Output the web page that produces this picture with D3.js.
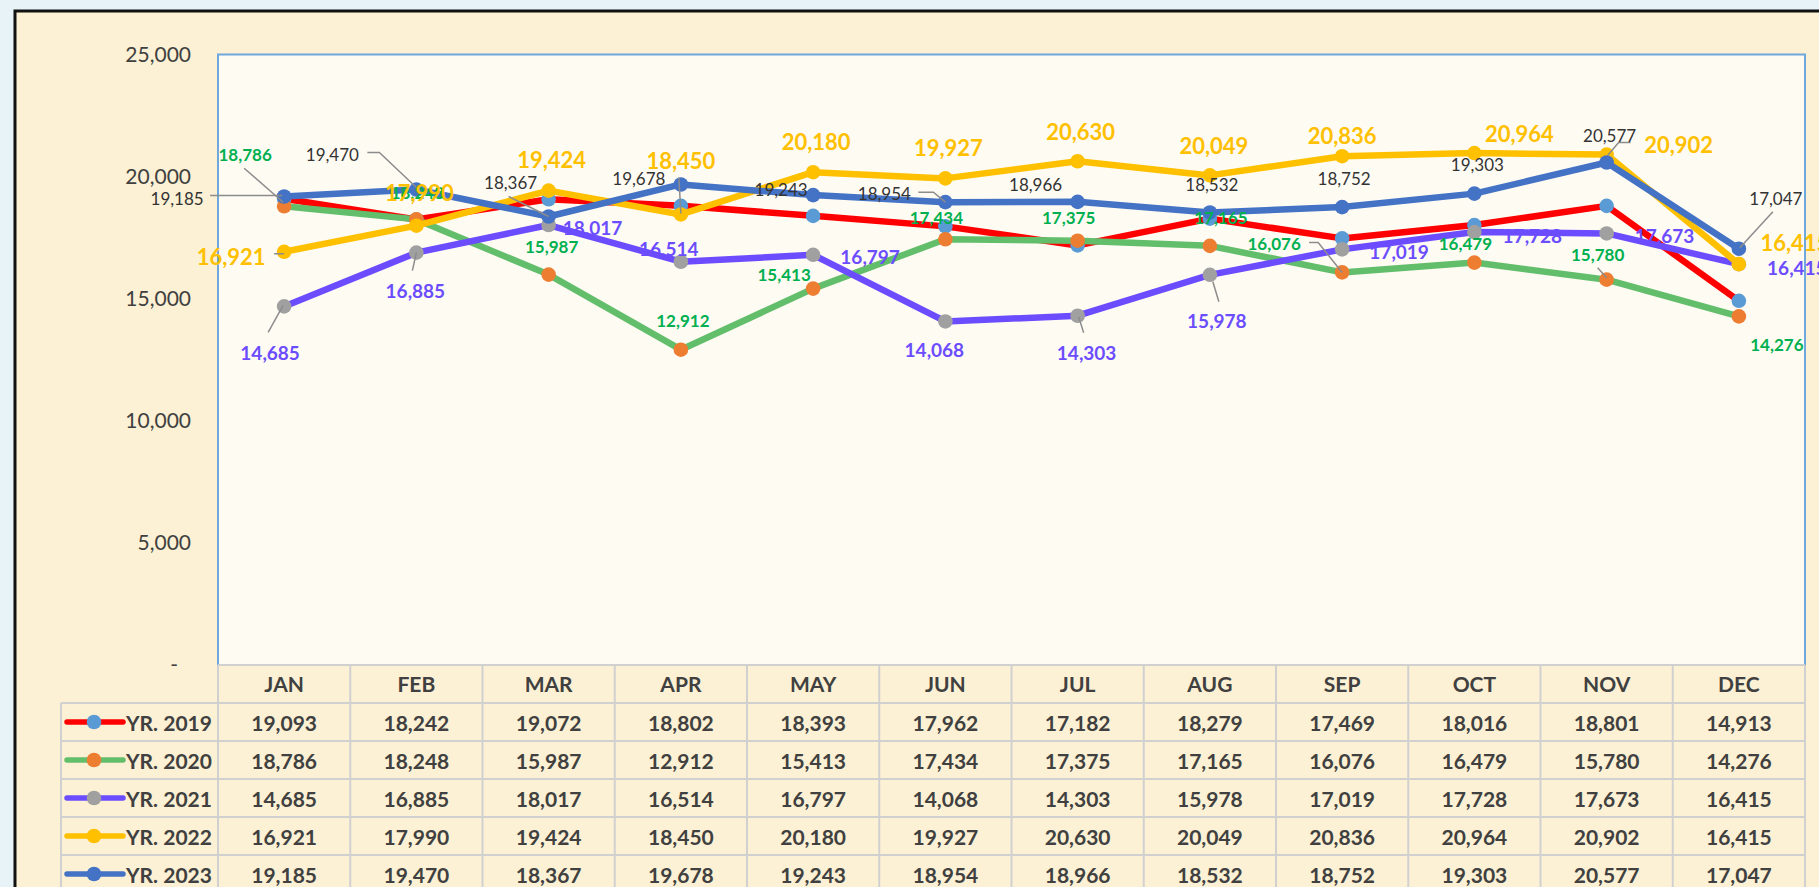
<!DOCTYPE html>
<html>
<head>
<meta charset="utf-8">
<script src="https://cdn.jsdelivr.net/npm/d3@7"></script>
<style>
  body { margin: 0; background: #e7f3f6; overflow: hidden; }
  svg { display: block; font-family: Lato, "Open Sans", sans-serif; }
</style>
</head>
<body>
<script>
// data
var months = ["JAN","FEB","MAR","APR","MAY","JUN","JUL","AUG","SEP","OCT","NOV","DEC"];
var y2019 = [19093,18242,19072,18802,18393,17962,17182,18279,17469,18016,18801,14913];
var y2020 = [18786,18248,15987,12912,15413,17434,17375,17165,16076,16479,15780,14276];
var y2021 = [14685,16885,18017,16514,16797,14068,14303,15978,17019,17728,17673,16415];
var y2022 = [16921,17990,19424,18450,20180,19927,20630,20049,20836,20964,20902,16415];
var y2023 = [19185,19470,18367,19678,19243,18954,18966,18532,18752,19303,20577,17047];
var yTicks = [0,5000,10000,15000,20000,25000];

// where each data label sits, relative to its point (dx, dy)
var off2020 = [[-39,-52],[1,-27],[3,-28],[2,-29],[-29,-14],[-9,-22],[-9,-23],[11,-28],[-68,-29],[-9,-19],[-9,-25],[38,28]];
var off2021 = [[-14,46],[-1,38],[44,2],[-12,-13],[57,2],[-11,28],[9,37],[7,46],[57,2],[58,3],[58,2],[58,3]];
var off2022 = [[-53,5],[3,-33],[3,-31],[0,-54],[3,-31],[3,-31],[3,-30],[4,-30],[0,-21],[45,-20],[72,-10],[56,-22]];
var off2023 = [[-107,2],[-84,-35],[-38,-34],[-42,-6],[-32,-6],[-61,-9],[-42,-17],[2,-28],[2,-29],[3,-29],[3,-27],[37,-50]];

// leader lines: [series, month index, path relative to point]
var leaders = [
  ["2023", 0, [[-74,-1],[-2,-1]]],
  ["2020", 0, [[-40,-38],[-1,-4]]],
  ["2023", 1, [[-49,-37],[-37,-37],[0,-2]]],
  ["2022", 0, [[-10,2],[0,2]]],
  ["2021", 0, [[-16,26],[-1,-1]]],
  ["2021", 1, [[-4,18],[0,0]]],
  ["2023", 2, [[-40,-20],[0,0]]],
  ["2022", 3, [[-2,-37],[0,-1]]],
  ["2023", 5, [[-27,-10],[-12,-10],[0,0]]],
  ["2021", 6, [[1,1],[6,17]]],
  ["2021", 7, [[3,7],[9,27]]],
  ["2020", 8, [[-33,-30],[-24,-30],[0,0]]],
  ["2023", 10, [[24,-20],[12,-20],[1,-7]]],
  ["2020", 10, [[-9,-12],[0,-2]]],
  ["2023", 11, [[34,-37],[1,-1]]]
];

var series = [
  {name:"2019", values:y2019, line:"#ff0000", marker:"#5b9bd5", labels:null},
  {name:"2020", values:y2020, line:"#63be6b", marker:"#ed7d31", labels:off2020, color:"#00b050", size:17, weight:"bold"},
  {name:"2021", values:y2021, line:"#6b4dff", marker:"#a0a0a0", labels:off2021, color:"#6b4dff", size:19, weight:"bold"},
  {name:"2022", values:y2022, line:"#ffc000", marker:"#ffc000", labels:off2022, color:"#ffc000", size:22, weight:"bold"},
  {name:"2023", values:y2023, line:"#4472c4", marker:"#4472c4", labels:off2023, color:"#333333", size:17, weight:"normal"}
];

(function() {
  var width = 1819, height = 887;
  var plotLeft = 218, plotRight = 1805, plotTop = 54.5, plotBottom = 665;
  var rowH = 38, tableLeft = 61;

  var svg = d3.select("body").append("svg")
      .attr("width", width)
      .attr("height", height);

  // outer frame
  svg.append("rect")
      .attr("x", 15).attr("y", 11)
      .attr("width", width + 40).attr("height", height + 40)
      .attr("fill", "#fcf1d4")
      .attr("stroke", "#111")
      .attr("stroke-width", 3);

  var x = d3.scaleBand().domain(months).range([plotLeft, plotRight]);
  var y = d3.scaleLinear().domain([0, 25000]).range([plotBottom, plotTop]);
  var cx = function(i) { return x(months[i]) + x.bandwidth() / 2; };

  // plot area
  svg.append("rect")
      .attr("x", plotLeft).attr("y", plotTop)
      .attr("width", plotRight - plotLeft).attr("height", plotBottom - plotTop)
      .attr("fill", "#fefbf3")
      .attr("stroke", "#6fa8dc")
      .attr("stroke-width", 2);

  // y axis
  var yAxis = svg.append("g")
      .attr("transform", "translate(" + plotLeft + ",0)")
      .call(d3.axisLeft(y).tickValues(yTicks).tickSize(0).tickPadding(27)
        .tickFormat(function(d) { return d === 0 ? "-" : d3.format(",")(d); }));
  yAxis.select(".domain").remove();
  yAxis.selectAll("text")
      .attr("font-family", "Lato, sans-serif")
      .attr("font-size", 21)
      .attr("fill", "#404040")
      .attr("dx", function(d) { return d === 0 ? -13 : 0; });

  // lines and markers
  var line = d3.line()
      .x(function(d, i) { return cx(i); })
      .y(function(d) { return y(d); });

  series.forEach(function(s) {
    svg.append("path")
        .datum(s.values)
        .attr("d", line)
        .attr("fill", "none")
        .attr("stroke", s.line)
        .attr("stroke-width", 6.5)
        .attr("stroke-linejoin", "round");
    svg.append("g").selectAll("circle")
        .data(s.values)
        .join("circle")
        .attr("cx", function(d, i) { return cx(i); })
        .attr("cy", function(d) { return y(d); })
        .attr("r", 7.3)
        .attr("fill", s.marker);
  });

  // leader lines
  var byName = {};
  series.forEach(function(s) { byName[s.name] = s; });
  leaders.forEach(function(l) {
    var s = byName[l[0]], i = l[1];
    var px = cx(i), py = y(s.values[i]);
    svg.append("path")
        .attr("d", d3.line()(l[2].map(function(p) { return [px + p[0], py + p[1]]; })))
        .attr("fill", "none")
        .attr("stroke", "#8c8c8c")
        .attr("stroke-width", 1.5);
  });

  // data labels
  series.forEach(function(s) {
    if (!s.labels) return;
    svg.append("g").selectAll("text")
        .data(s.values)
        .join("text")
        .attr("x", function(d, i) { return cx(i) + s.labels[i][0]; })
        .attr("y", function(d, i) { return y(d) + s.labels[i][1]; })
        .attr("text-anchor", "middle")
        .attr("dominant-baseline", "central")
        .attr("font-size", s.size)
        .attr("font-weight", s.weight)
        .attr("fill", s.color)
        .text(function(d) { return d3.format(",")(d); });
  });

  // data table
  var table = svg.append("g");
  var gridColor = "#d0d0d0";

  table.selectAll("text.month")
      .data(months)
      .join("text")
      .attr("class", "month")
      .attr("x", function(d) { return x(d) + x.bandwidth() / 2; })
      .attr("y", plotBottom + rowH / 2 - 1)
      .attr("text-anchor", "middle")
      .attr("dominant-baseline", "central")
      .attr("font-size", 21)
      .attr("font-weight", "bold")
      .attr("fill", "#404040")
      .text(function(d) { return d; });

  series.forEach(function(s, r) {
    var ry = plotBottom + rowH * (r + 1);
    var row = table.append("g");
    row.selectAll("text")
        .data(s.values)
        .join("text")
        .attr("x", function(d, i) { return cx(i); })
        .attr("y", ry + rowH / 2)
        .attr("text-anchor", "middle")
        .attr("dominant-baseline", "central")
        .attr("font-size", 21)
        .attr("font-weight", "bold")
        .attr("fill", "#404040")
        .text(function(d) { return d3.format(",")(d); });
    // legend key
    row.append("line")
        .attr("x1", 67).attr("x2", 123)
        .attr("y1", ry + rowH / 2).attr("y2", ry + rowH / 2)
        .attr("stroke", s.line)
        .attr("stroke-width", 5.5)
        .attr("stroke-linecap", "round");
    row.append("circle")
        .attr("cx", 94).attr("cy", ry + rowH / 2)
        .attr("r", 7.3)
        .attr("fill", s.marker);
    row.append("text")
        .attr("x", 126)
        .attr("y", ry + rowH / 2)
        .attr("dominant-baseline", "central")
        .attr("font-size", 21)
        .attr("font-weight", "bold")
        .attr("fill", "#404040")
        .text("YR. " + s.name);
  });

  // grid lines
  var rowsBottom = plotBottom + rowH * (series.length + 1);
  table.append("line")
      .attr("x1", plotLeft).attr("x2", plotRight)
      .attr("y1", plotBottom).attr("y2", plotBottom)
      .attr("stroke", gridColor).attr("stroke-width", 2);
  d3.range(1, series.length + 2).forEach(function(r) {
    table.append("line")
        .attr("x1", tableLeft).attr("x2", plotRight)
        .attr("y1", plotBottom + rowH * r).attr("y2", plotBottom + rowH * r)
        .attr("stroke", gridColor).attr("stroke-width", 2);
  });
  months.forEach(function(m) {
    table.append("line")
        .attr("x1", x(m)).attr("x2", x(m))
        .attr("y1", plotBottom).attr("y2", rowsBottom)
        .attr("stroke", gridColor).attr("stroke-width", 2);
  });
  table.append("line")
      .attr("x1", plotRight).attr("x2", plotRight)
      .attr("y1", plotBottom).attr("y2", rowsBottom)
      .attr("stroke", gridColor).attr("stroke-width", 2);
  table.append("line")
      .attr("x1", tableLeft).attr("x2", tableLeft)
      .attr("y1", plotBottom + rowH).attr("y2", rowsBottom)
      .attr("stroke", gridColor).attr("stroke-width", 2);
})();
</script>
</body>
</html>
